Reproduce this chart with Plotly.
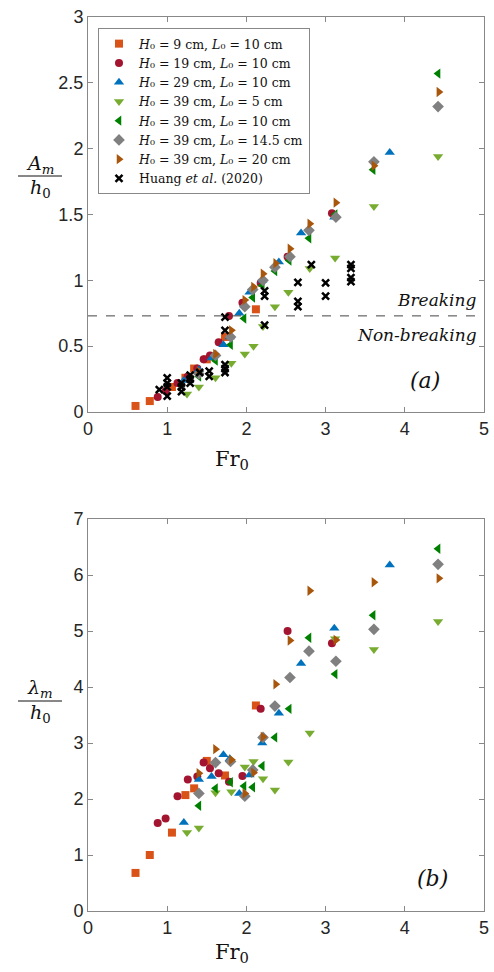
import plotly.graph_objects as go

# ---------------- data ----------------
# H0 = 9 cm, L0 = 10 cm
sq_x = [0.6, 0.78, 1.06, 1.23, 1.34, 1.5, 1.73, 2.12]
sq_a = [0.046, 0.083, 0.19, 0.26, 0.33, 0.40, 0.57, 0.78]
sq_b = [0.68, 1.0, 1.40, 2.07, 2.19, 2.68, 2.42, 3.67]
# H0 = 19 cm, L0 = 10 cm
ci_x = [0.88, 0.98, 1.13, 1.26, 1.38, 1.46, 1.54, 1.65, 1.78, 1.95, 2.18, 2.52, 3.08]
ci_a = [0.114, 0.16, 0.22, 0.27, 0.33, 0.40, 0.43, 0.53, 0.73, 0.83, 0.98, 1.18, 1.51]
ci_b = [1.57, 1.65, 2.05, 2.35, 2.40, 2.65, 2.55, 2.46, 2.31, 2.41, 3.61, 5.0, 4.78]
# H0 = 29 cm, L0 = 10 cm
tu_x = [1.21, 1.40, 1.56, 1.71, 1.79, 1.91, 2.04, 2.20, 2.41, 2.69, 3.11, 3.81]
tu_a = [0.24, 0.32, 0.41, 0.51, 0.57, 0.75, 0.91, 1.0, 1.14, 1.36, 1.48, 1.97]
tu_b = [1.58, 2.35, 2.40, 2.79, 2.72, 2.10, 2.43, 3.0, 3.53, 4.42, 5.05, 6.18]
# H0 = 39 cm, L0 = 5 cm
td_x = [1.25, 1.40, 1.61, 1.81, 1.98, 2.09, 2.21, 2.36, 2.53, 2.80, 3.12, 3.61, 4.42]
td_a = [0.137, 0.19, 0.26, 0.37, 0.44, 0.50, 0.65, 0.80, 0.91, 1.09, 1.17, 1.56, 1.94]
td_b = [1.40, 1.48, 2.11, 2.13, 2.57, 2.67, 2.36, 2.16, 2.66, 3.18, 4.86, 4.67, 5.17]
# H0 = 39 cm, L0 = 10 cm
tl_x = [1.40, 1.61, 1.80, 1.97, 2.08, 2.20, 2.36, 2.54, 2.79, 3.12, 3.60, 4.42]
tl_a = [0.27, 0.39, 0.51, 0.71, 0.87, 0.96, 1.07, 1.15, 1.32, 1.50, 1.84, 2.57]
tl_b = [1.88, 2.19, 2.30, 2.23, 2.21, 2.59, 3.10, 3.61, 4.88, 4.23, 5.28, 6.47]
# H0 = 39 cm, L0 = 14.5 cm
di_x = [1.40, 1.61, 1.80, 1.98, 2.08, 2.21, 2.36, 2.55, 2.79, 3.13, 3.61, 4.42]
di_a = [0.29, 0.43, 0.57, 0.80, 0.93, 1.0, 1.10, 1.18, 1.38, 1.48, 1.90, 2.32]
di_b = [2.10, 2.65, 2.67, 2.05, 2.52, 3.10, 3.66, 4.17, 4.64, 4.46, 5.03, 6.19]
# H0 = 39 cm, L0 = 20 cm
tr_x = [1.40, 1.61, 1.81, 1.98, 2.09, 2.21, 2.37, 2.55, 2.80, 3.13, 3.61, 4.43]
tr_a = [0.31, 0.44, 0.62, 0.85, 0.95, 1.05, 1.13, 1.24, 1.43, 1.59, 1.87, 2.43]
tr_b = [2.46, 2.89, 2.70, 2.10, 2.47, 3.11, 4.05, 4.83, 5.72, 4.84, 5.87, 5.94]
# Huang et al. (2020)
hu_x = [0.9, 1.0, 1.0, 1.0, 1.0, 1.18, 1.18, 1.18, 1.29, 1.29, 1.29, 1.41, 1.53, 1.53,
        1.73, 1.73, 1.73, 1.73, 1.73, 2.23, 2.23, 2.23, 2.65, 2.65, 2.65, 2.82, 3.0, 3.0,
        3.32, 3.32, 3.32, 3.32]
hu_a = [0.17, 0.26, 0.22, 0.19, 0.12, 0.22, 0.19, 0.155, 0.28, 0.25, 0.22, 0.30, 0.31, 0.27,
        0.36, 0.33, 0.30, 0.62, 0.72, 0.92, 0.88, 0.66, 0.985, 0.84, 0.80, 1.12, 0.98, 0.88,
        1.12, 1.09, 1.02, 0.99]

breaking_level = 0.73

series = [
    ("<i>H</i>₀ = 9 cm, <i>L</i>₀ = 10 cm", sq_x, sq_a, sq_b, "square", "#D95319", 8),
    ("<i>H</i>₀ = 19 cm, <i>L</i>₀ = 10 cm", ci_x, ci_a, ci_b, "circle", "#A2142F", 8),
    ("<i>H</i>₀ = 29 cm, <i>L</i>₀ = 10 cm", tu_x, tu_a, tu_b, "triangle-up", "#0072BD", 9),
    ("<i>H</i>₀ = 39 cm, <i>L</i>₀ = 5 cm", td_x, td_a, td_b, "triangle-down", "#77AC30", 9),
    ("<i>H</i>₀ = 39 cm, <i>L</i>₀ = 10 cm", tl_x, tl_a, tl_b, "triangle-left", "#008000", 9),
    ("<i>H</i>₀ = 39 cm, <i>L</i>₀ = 14.5 cm", di_x, di_a, di_b, "diamond", "#808080", 9),
    ("<i>H</i>₀ = 39 cm, <i>L</i>₀ = 20 cm", tr_x, tr_a, tr_b, "triangle-right", "#A8560C", 9),
]

fig = go.Figure()
for name, x, ya, yb, sym, col, sz in series:
    fig.add_trace(go.Scatter(x=x, y=ya, mode="markers", name=name,
                             marker=dict(symbol=sym, color=col, size=sz, line=dict(width=0)),
                             xaxis="x", yaxis="y"))
fig.add_trace(go.Scatter(x=hu_x, y=hu_a, mode="markers", name="Huang <i>et al.</i> (2020)",
                         marker=dict(symbol="x-thin", color="black", size=7,
                                     line=dict(width=2.5, color="black")),
                         xaxis="x", yaxis="y"))
for name, x, ya, yb, sym, col, sz in series:
    fig.add_trace(go.Scatter(x=x, y=yb, mode="markers", name=name, showlegend=False,
                             marker=dict(symbol=sym, color=col, size=sz, line=dict(width=0)),
                             xaxis="x2", yaxis="y2"))

W, H = 494, 972
L, R, T, B = 88, 10, 17, 61
PH = H - T - B

def py(p):
    return (H - B - p) / PH

def px(p):
    return (p - L) / (W - L - R)

axis_common = dict(range=[0, 5], showline=True, linecolor="#888888", linewidth=1,
                   mirror="allticks", ticks="inside", ticklen=5, tickcolor="#888888",
                   showgrid=False, zeroline=False, automargin=False,
                   tickfont=dict(family="Liberation Sans, Arial", size=18, color="#262626"))

fig.update_layout(
    template="none",
    width=W, height=H,
    margin=dict(l=L, r=R, t=T, b=B, autoexpand=False),
    plot_bgcolor="white", paper_bgcolor="white",
    xaxis=dict(axis_common, dtick=1, anchor="y", domain=[0, 1]),
    yaxis=dict(axis_common, range=[0, 3], dtick=0.5, anchor="x", domain=[py(412), 1]),
    xaxis2=dict(axis_common, dtick=1, anchor="y2", domain=[0, 1]),
    yaxis2=dict(axis_common, range=[0, 7], dtick=1, anchor="x2", domain=[0, py(519)]),
    legend=dict(x=px(98), y=py(28), xanchor="left", yanchor="top",
                bgcolor="white", bordercolor="#888888", borderwidth=1,
                font=dict(family="DejaVu Serif, Liberation Serif", size=12.5, color="#111111"),
                tracegroupgap=0),
    showlegend=True,
)

fig.add_shape(type="line", xref="x", yref="y", x0=0, x1=5, y0=breaking_level, y1=breaking_level,
              line=dict(color="#444444", width=1, dash="dash"))

serif = "DejaVu Serif, Liberation Serif"
ann = [
    dict(text="<i>Breaking</i>", x=px(479), y=py(300), xanchor="right", font=dict(size=17)),
    dict(text="<i>Non-breaking</i>", x=px(479), y=py(335), xanchor="right", font=dict(size=17)),
    dict(text="<i>(a)</i>", x=px(425), y=py(380), xanchor="center", font=dict(size=22)),
    dict(text="<i>(b)</i>", x=px(432), y=py(878), xanchor="center", font=dict(size=22)),
    dict(text="Fr<sub>0</sub>", x=px(232), y=py(460), xanchor="center", font=dict(size=21)),
    dict(text="Fr<sub>0</sub>", x=px(232), y=py(953), xanchor="center", font=dict(size=21)),
    dict(text="<i>A<sub>m</sub></i>", x=px(40), y=py(164), xanchor="center", font=dict(size=19)),
    dict(text="<i>h</i><sub>0</sub>", x=px(40), y=py(188), xanchor="center", font=dict(size=19)),
    dict(text="<i>λ<sub>m</sub></i>", x=px(40), y=py(688), xanchor="center", font=dict(size=19)),
    dict(text="<i>h</i><sub>0</sub>", x=px(40), y=py(713), xanchor="center", font=dict(size=19)),
]
for a in ann:
    a.setdefault("showarrow", False)
    a["xref"] = "paper"
    a["yref"] = "paper"
    a["yanchor"] = "middle"
    a["font"] = dict(family=serif, color="#111111", **a["font"])
    fig.add_annotation(**a)

for yb in (176, 701):
    fig.add_shape(type="line", xref="paper", yref="paper", x0=px(18), x1=px(62),
                  y0=py(yb), y1=py(yb), line=dict(color="#111111", width=1))

fig.write_html("out.html")
